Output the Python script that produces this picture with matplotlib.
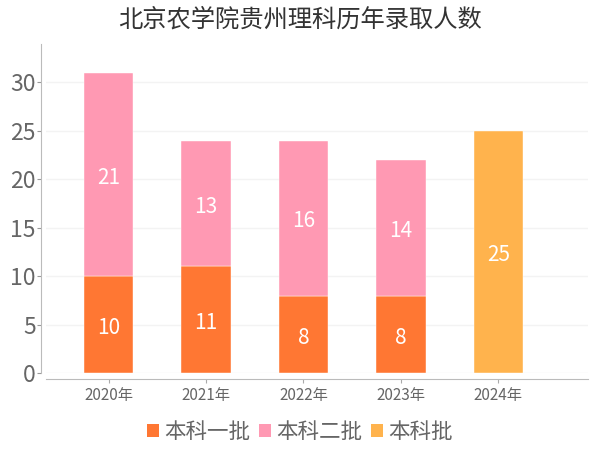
import numpy as np
from matplotlib import pyplot as plt
from matplotlib.patches import Patch

plt.rcParams['font.family'] = ['Noto Sans CJK SC', 'DejaVu Sans']

years = ['2020年', '2021年', '2022年', '2023年', '2024年']
batch1 = [10, 11, 8, 8, 0]
batch2 = [21, 13, 16, 14, 0]
batch_all = [0, 0, 0, 0, 25]
series_names = ['本科一批', '本科二批', '本科批']
colors = ['#FF7733', '#FF99B3', '#FFB34D']

fig = plt.figure(figsize=(6, 4.5), dpi=100)
ax = fig.add_axes([0.077, 0.171, 0.903, 0.732])

x = np.arange(len(years))
w = 0.51
b1 = np.array(batch1)
b2 = np.array(batch2)
b3 = np.array(batch_all)

# stacked bars, zero segments are skipped so no stray edges show up
bottom = np.zeros(len(years))
for vals, c in zip((b1, b2, b3), colors):
    keep = vals > 0
    ax.bar(x[keep], vals[keep], w, bottom=bottom[keep], color=c,
           edgecolor='white', linewidth=0.3, zorder=2)
    for xi, v, b in zip(x[keep], vals[keep], bottom[keep]):
        ax.text(xi, b + v / 2 - 0.35, str(v), color='white', ha='center',
                va='center', fontsize=15, zorder=3)
    bottom = bottom + vals

ax.set_xlim(-0.64, 4.92)
ax.set_ylim(0, 34)
ax.set_yticks([0, 5, 10, 15, 20, 25, 30])
ax.set_xticks(x)
ax.set_xticklabels(years)
ax.tick_params(axis='y', labelsize=16.5, colors='#999999', labelcolor='#666666',
               length=3, pad=0.5)
ax.tick_params(axis='x', labelsize=11, colors='#aaaaaa', labelcolor='#666666',
               length=3, pad=3)
ax.yaxis.grid(True, color='#f3f3f3', linewidth=1, zorder=0)
ax.set_axisbelow(True)

for s in ['top', 'right']:
    ax.spines[s].set_visible(False)
ax.spines['left'].set_position(('outward', 4))
ax.spines['bottom'].set_position(('outward', 4))
ax.spines['left'].set_color('#bbbbbb')
ax.spines['bottom'].set_color('#bbbbbb')

fig.suptitle('北京农学院贵州理科历年录取人数', fontsize=17.5, color='#333333', y=0.985)

handles = [Patch(facecolor=c, edgecolor='none') for c in colors]
fig.legend(handles, series_names, loc='center', bbox_to_anchor=(0.5, 0.04),
           ncol=3, frameon=False, fontsize=15.5, labelcolor='#666666',
           handlelength=0.55, handleheight=0.55, handletextpad=0.25,
           columnspacing=0.4)

fig.savefig('out.png', dpi=100)
